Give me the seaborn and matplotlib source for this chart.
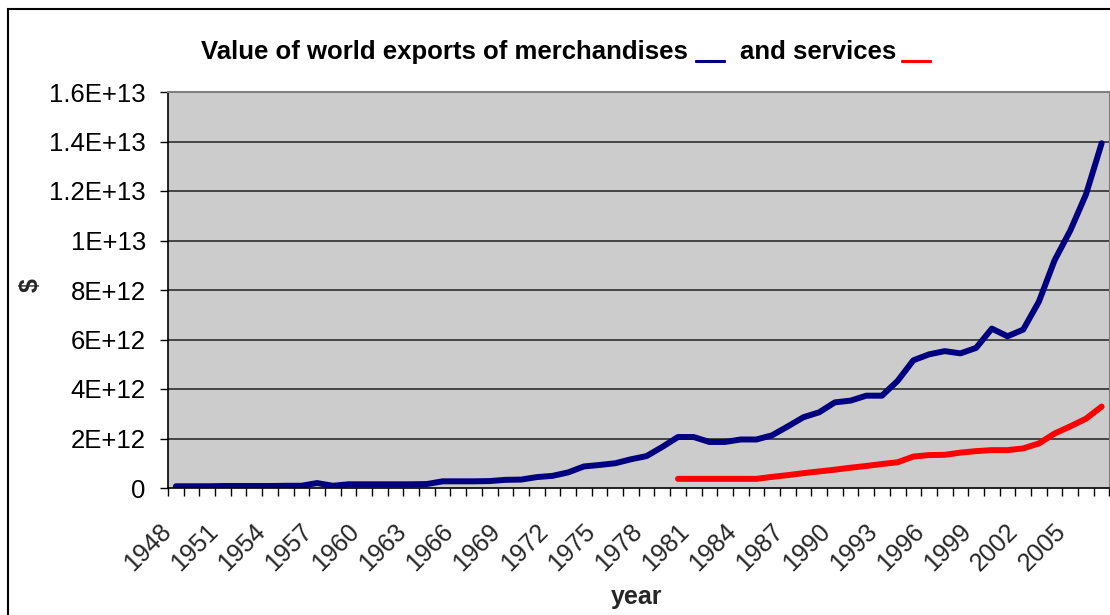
import numpy as np
import pandas as pd
import matplotlib
matplotlib.use("Agg")
import matplotlib.pyplot as plt
import matplotlib.patheffects as pe
import seaborn as sns
from matplotlib.transforms import ScaledTranslation
from matplotlib.patches import Rectangle

# data (in trillions of $)
years = list(range(1948, 2008))
merchandise = [0.07, 0.07, 0.07, 0.08, 0.08, 0.08, 0.08, 0.09, 0.09, 0.20,
               0.09, 0.15, 0.15, 0.15, 0.15, 0.15, 0.16, 0.27, 0.27, 0.27,
               0.28, 0.33, 0.34, 0.44, 0.49, 0.63, 0.87, 0.93, 1.00, 1.16,
               1.29, 1.66, 2.06, 2.06, 1.86, 1.86, 1.96, 1.96, 2.13, 2.49,
               2.86, 3.06, 3.46, 3.53, 3.73, 3.73, 4.33, 5.16, 5.40, 5.53,
               5.44, 5.66, 6.44, 6.13, 6.40, 7.53, 9.20, 10.40, 11.86, 13.93]
services_years = list(range(1980, 2008))
services = [0.37, 0.37, 0.37, 0.37, 0.37, 0.37, 0.45, 0.52, 0.60, 0.67,
            0.74, 0.82, 0.89, 0.97, 1.04, 1.27, 1.33, 1.34, 1.43, 1.49,
            1.53, 1.53, 1.60, 1.80, 2.20, 2.49, 2.80, 3.29]
ytick_values = [0, 2e12, 4e12, 6e12, 8e12, 1e13, 1.2e13, 1.4e13, 1.6e13]
ytick_labels = ["0", "2E+12", "4E+12", "6E+12", "8E+12", "1E+13", "1.2E+13", "1.4E+13", "1.6E+13"]
xtick_years = years[::3]

df_m = pd.DataFrame({"year": years, "value": np.array(merchandise) * 1e12})
df_s = pd.DataFrame({"year": services_years, "value": np.array(services) * 1e12})

sns.set_style("white")
plt.rcParams["font.family"] = ["Liberation Sans", "DejaVu Sans"]

W, H = 1110, 615
fig = plt.figure(figsize=(W / 100, H / 100), dpi=100)
ax = fig.add_axes([168 / W, 1 - 488 / H, (1109.5 - 168) / W, (488 - 92) / H])
ax.set_facecolor("#cccccc")

# chart area border (cut off on right/bottom like the original)
fig.patches.append(Rectangle((8 / W, -0.1), 1.2, 1 - 9 / H + 0.1, transform=fig.transFigure,
                             fill=False, edgecolor="black", linewidth=1.5))

sns.lineplot(data=df_m, x="year", y="value", color="#000080", linewidth=4.3, ax=ax, legend=False)
sns.lineplot(data=df_s, x="year", y="value", color="#ff0000", linewidth=4.3, ax=ax, legend=False)

ax.set_xlim(1947.5, 2007.5)
ax.set_ylim(0, 1.6e13)

for v in ytick_values[1:-1]:
    ax.axhline(v, color="#202020", linewidth=1.1, zorder=1)

ax.set_yticks(ytick_values)
ax.set_yticklabels(ytick_labels, fontsize=18.5)
ax.tick_params(axis="y", length=6, width=1, pad=10, direction="out", left=True, colors="black")

ax.set_xticks(xtick_years)
ax.set_xticklabels([str(y) for y in xtick_years], fontsize=18, rotation=45,
                   ha="right", va="top", rotation_mode="anchor")
ax.set_xticks(np.arange(1947.5, 2008, 1), minor=True)
ax.tick_params(axis="x", which="major", length=0, pad=22.5)
ax.tick_params(axis="x", which="minor", length=6, width=1, direction="out", bottom=True, colors="black")
for lab in ax.get_xticklabels():
    lab.set_transform(lab.get_transform() + ScaledTranslation(-0.17, 0, fig.dpi_scale_trans))

ax.set_xlabel("")
ax.set_ylabel("")
for side in ["top", "right"]:
    ax.spines[side].set_color("#808080")
    ax.spines[side].set_linewidth(1.5)
for side in ["left", "bottom"]:
    ax.spines[side].set_color("black")
    ax.spines[side].set_linewidth(1.2)

# title with coloured underscores
ty = 1 - 59 / H
fig.text(201 / W, ty, "Value of world exports of merchandises", fontsize=18.5, fontweight="bold",
         va="baseline", color="black")
fig.text(696 / W, ty, "__", fontsize=18.5, fontweight="bold", va="baseline", color="#000080",
         path_effects=[pe.withStroke(linewidth=1.5, foreground="#000080")])
fig.text(740 / W, ty, "and services", fontsize=18.5, fontweight="bold", va="baseline", color="black")
fig.text(902 / W, ty, "__", fontsize=18.5, fontweight="bold", va="baseline", color="#ff0000",
         path_effects=[pe.withStroke(linewidth=1.5, foreground="#ff0000")])

fig.text(31 / W, 1 - 285 / H, "$", fontsize=18, fontweight="bold", rotation=90, ha="center", va="center")
fig.text(637 / W, 1 - 597 / H, "year", fontsize=18, fontweight="bold", ha="center", va="center")

fig.savefig("out.png", dpi=100)
